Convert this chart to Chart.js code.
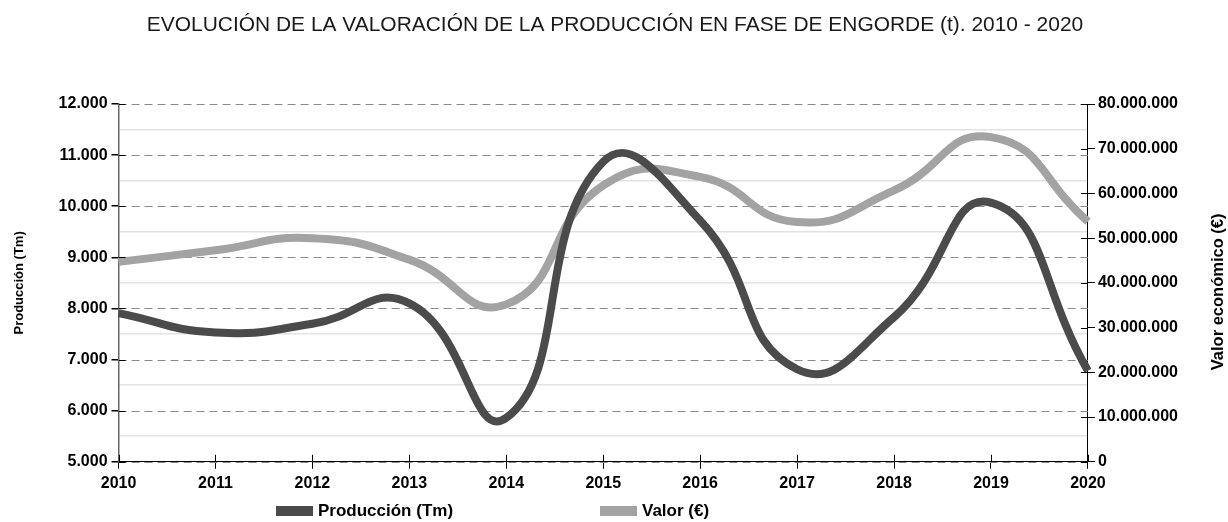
<!DOCTYPE html>
<html>
<head>
<meta charset="utf-8">
<script src="https://cdn.jsdelivr.net/npm/chart.js@4"></script>
<style>
  html, body { margin: 0; padding: 0; background: #fff; }
</style>
</head>
<body>
<canvas id="chart" width="1228" height="522"></canvas>
<script>
// Data
const years = ['2010', '2011', '2012', '2013', '2014', '2015', '2016', '2017', '2018', '2019', '2020'];
const produccion = [7910, 7530, 7700, 8100, 5860, 10870, 9720, 6810, 7830, 10070, 6780];
const valor = [44700000, 47300000, 50000000, 45200000, 35200000, 61800000, 63700000, 53600000, 60700000, 72600000, 53700000];

// Axis ranges
const prodMin = 5000, prodMax = 12000, prodStep = 1000;
const valorMin = 0, valorMax = 80000000, valorStep = 10000000;

const TITLE = 'EVOLUCIÓN DE LA VALORACIÓN DE LA PRODUCCIÓN EN FASE DE ENGORDE (t). 2010 - 2020';
const FONT = "'Liberation Sans', Arial, sans-serif";
const fmt = v => String(v).replace(/\B(?=(\d{3})+(?!\d))/g, '.');
const isMajor = v => (v - prodMin) % prodStep === 0;

// Dashed major grid lines, drawn under the series
const dashedGrid = {
    id: 'dashedGrid',
    beforeDatasetsDraw(chart) {
        const { ctx, chartArea: a, scales: { y } } = chart;
        ctx.save();
        ctx.strokeStyle = '#8a8a8a';
        ctx.lineWidth = 1;
        ctx.setLineDash([8, 5]);
        y.ticks.forEach(t => {
            if (!isMajor(t.value)) return;
            const py = Math.round(y.getPixelForValue(t.value)) + 0.5;
            ctx.beginPath();
            ctx.moveTo(a.left, py);
            ctx.lineTo(a.right, py);
            ctx.stroke();
        });
        ctx.restore();
    }
};

// Title, tick marks crossing the axes, right title and legend
const extras = {
    id: 'extras',
    afterDraw(chart) {
        const { ctx, chartArea: a, scales: { x, y, y1 } } = chart;

        ctx.save();
        ctx.fillStyle = '#1a1a1a';
        ctx.font = `20px ${FONT}`;
        ctx.textAlign = 'center';
        ctx.textBaseline = 'alphabetic';
        ctx.translate(615, 30.5);
        ctx.scale(1.047, 1);
        ctx.fillText(TITLE, 0, 0);
        ctx.restore();

        ctx.save();
        ctx.strokeStyle = '#000';
        ctx.lineWidth = 1;
        const seg = (x0, y0, x1, y1_) => {
            ctx.beginPath(); ctx.moveTo(x0, y0); ctx.lineTo(x1, y1_); ctx.stroke();
        };
        y.ticks.forEach(t => {
            if (!isMajor(t.value)) return;
            const py = Math.round(y.getPixelForValue(t.value)) + 0.5;
            seg(a.left, py, a.left + 7, py);
        });
        y1.ticks.forEach(t => {
            const py = Math.round(y1.getPixelForValue(t.value)) + 0.5;
            seg(a.right - 7, py, a.right, py);
        });
        x.ticks.forEach((t, i) => {
            const px = Math.round(x.getPixelForTick(i)) + 0.5;
            seg(px, a.bottom - 7, px, a.bottom);
        });

        // right axis title, reading bottom to top
        ctx.fillStyle = '#000';
        ctx.font = `bold 16.5px ${FONT}`;
        ctx.textAlign = 'center';
        ctx.textBaseline = 'middle';
        ctx.translate(1218, (a.top + a.bottom) / 2 + 9);
        ctx.rotate(-Math.PI / 2);
        ctx.fillText('Valor económico (€)', 0, 0);
        ctx.restore();

        // legend
        ctx.save();
        const legendX = [276, 600];
        ctx.font = `bold 17px ${FONT}`;
        ctx.textBaseline = 'middle';
        chart.data.datasets.forEach((ds, i) => {
            ctx.fillStyle = ds.borderColor;
            ctx.fillRect(legendX[i], 506, 37, 10);
            ctx.fillStyle = '#000';
            ctx.fillText(ds.label, legendX[i] + 42, 511);
        });
        ctx.restore();
    }
};

new Chart(document.getElementById('chart'), {
    type: 'line',
    data: {
        labels: years,
        datasets: [{
            label: 'Producción (Tm)',
            data: produccion,
            yAxisID: 'y',
            borderColor: '#4b4b4b',
            borderWidth: 8,
            tension: 0.5,
            pointRadius: 0
        }, {
            label: 'Valor (€)',
            data: valor,
            yAxisID: 'y1',
            borderColor: '#a3a3a3',
            borderWidth: 8,
            tension: 0.5,
            pointRadius: 0
        }]
    },
    options: {
        responsive: false,
        animation: false,
        layout: { padding: { left: 12, right: 47, top: 104, bottom: 24 } },
        plugins: {
            legend: { display: false },
            tooltip: { enabled: false },
            title: { display: false }
        },
        scales: {
            x: {
                offset: false,
                border: { color: '#000', width: 1 },
                grid: { drawOnChartArea: false, tickLength: 7, tickColor: '#000' },
                ticks: { color: '#000', padding: 5, maxRotation: 0, font: { family: FONT, size: 16, weight: 'bold' } }
            },
            y: {
                position: 'left',
                min: prodMin,
                max: prodMax,
                border: { color: '#666', width: 1.5 },
                grid: {
                    color: c => isMajor(c.tick.value) ? 'rgba(0,0,0,0)' : '#e2e2e2',
                    lineWidth: 1.5,
                    tickLength: 7,
                    tickColor: c => isMajor(c.tick.value) ? '#000' : 'rgba(0,0,0,0)'
                },
                ticks: {
                    stepSize: 500,
                    color: '#000',
                    padding: 4,
                    font: { family: FONT, size: 16, weight: 'bold' },
                    callback: v => isMajor(v) ? fmt(v) : ''
                },
                title: {
                    display: true,
                    text: 'Producción (Tm)',
                    color: '#000',
                    font: { family: FONT, size: 13, weight: 'bold' },
                    padding: { top: 0, bottom: 27 }
                }
            },
            y1: {
                position: 'right',
                min: valorMin,
                max: valorMax,
                border: { color: '#000', width: 1 },
                grid: { drawOnChartArea: false, tickLength: 7, tickColor: '#000' },
                ticks: {
                    stepSize: valorStep,
                    color: '#000',
                    padding: 3,
                    font: { family: FONT, size: 16, weight: 'bold' },
                    callback: v => fmt(v)
                }
            }
        }
    },
    plugins: [dashedGrid, extras]
});
</script>
</body>
</html>
